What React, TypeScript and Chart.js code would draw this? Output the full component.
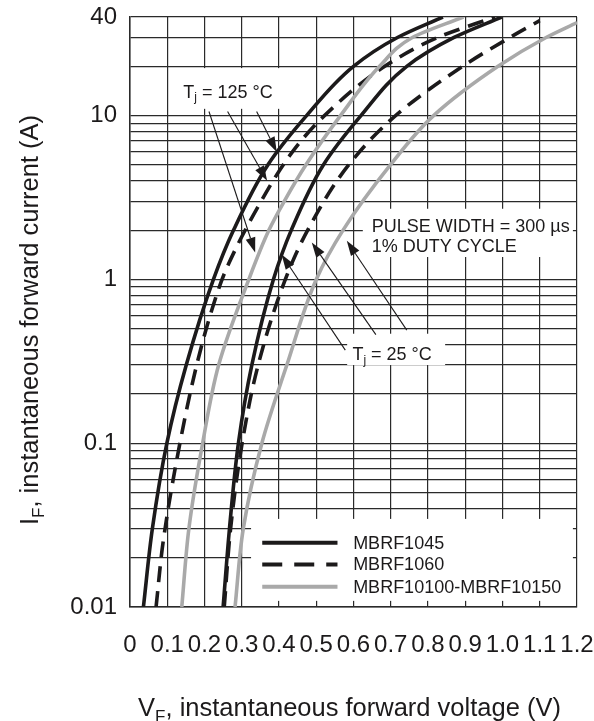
import React, { useEffect, useRef } from 'react';
import { Chart, registerables } from 'chart.js';

Chart.register(...registerables);

const seriesLabels = ['MBRF1045', 'MBRF1060', 'MBRF10100-MBRF10150'];

// Tj = 125 °C
const mbrf1045Hot_V = [0.036, 0.060, 0.099, 0.151, 0.224, 0.278, 0.370, 0.474, 0.600, 0.718, 0.840];
const mbrf1045Hot_I = [0.01, 0.03, 0.1, 0.3, 1, 2, 5, 10, 20, 30, 40];
const mbrf1060Hot_V = [0.070, 0.089, 0.134, 0.179, 0.224, 0.258, 0.352, 0.436, 0.522, 0.684, 0.826, 0.980];
const mbrf1060Hot_I = [0.01, 0.025, 0.1, 0.3, 0.7, 1.15, 3, 6, 10, 20, 30, 40];
const mbrf10100Hot_V = [0.139, 0.158, 0.195, 0.238, 0.319, 0.373, 0.414, 0.472, 0.565, 0.670, 0.758, 0.895];
const mbrf10100Hot_I = [0.01, 0.03, 0.1, 0.3, 1, 2, 3, 5, 10, 20, 30, 40];

// Tj = 25 °C
const mbrf1045Cold_V = [0.250, 0.267, 0.291, 0.327, 0.385, 0.433, 0.519, 0.620, 0.743, 0.870, 0.998];
const mbrf1045Cold_I = [0.01, 0.03, 0.1, 0.3, 1, 2, 5, 10, 20, 30, 40];
const mbrf1060Cold_V = [0.253, 0.270, 0.301, 0.344, 0.417, 0.477, 0.587, 0.713, 0.893, 1.020, 1.100];
const mbrf1060Cold_I = [0.01, 0.03, 0.1, 0.3, 1, 2, 5, 10, 20, 30, 38];
const mbrf10100Cold_V = [0.282, 0.304, 0.354, 0.421, 0.500, 0.572, 0.699, 0.815, 0.988, 1.117, 1.200];
const mbrf10100Cold_I = [0.01, 0.03, 0.1, 0.3, 1, 2, 5, 10, 20, 30, 37];

const xTickValues = [0, 0.1, 0.2, 0.3, 0.4, 0.5, 0.6, 0.7, 0.8, 0.9, 1.0, 1.1, 1.2];
const xTickLabels = ['0', '0.1', '0.2', '0.3', '0.4', '0.5', '0.6', '0.7', '0.8', '0.9', '1.0', '1.1', '1.2'];
const yGridValues = [
  0.01, 0.02, 0.03, 0.04, 0.05, 0.06, 0.07, 0.08, 0.09,
  0.1, 0.2, 0.3, 0.4, 0.5, 0.6, 0.7, 0.8, 0.9,
  1, 2, 3, 4, 5, 6, 7, 8, 9,
  10, 20, 30, 40,
];
const yTickLabelValues = [0.01, 0.1, 1, 10, 40];
const yTickLabels = ['0.01', '0.1', '1', '10', '40'];

const BLACK = '#1c1a1b';
const GRAY = '#a9a9a9';
const GRID = '#2a2a2a';
const FONT = '"Liberation Sans", Arial, Helvetica, sans-serif';

const pts = (v: number[], i: number[]) => v.map((x, k) => ({ x, y: i[k] }));

type Part = { t: string; sub?: boolean };

function richWidth(ctx: CanvasRenderingContext2D, parts: Part[], size: number) {
  let w = 0;
  for (const p of parts) {
    ctx.font = `${p.sub ? Math.round(size * 0.68) : size}px ${FONT}`;
    w += ctx.measureText(p.t).width;
  }
  return w;
}

function drawRich(ctx: CanvasRenderingContext2D, parts: Part[], x: number, y: number, size: number) {
  let cx = x;
  ctx.textBaseline = 'alphabetic';
  ctx.textAlign = 'left';
  for (const p of parts) {
    const s = p.sub ? Math.round(size * 0.68) : size;
    ctx.font = `${s}px ${FONT}`;
    ctx.fillText(p.t, cx, p.sub ? y + size * 0.22 : y);
    cx += ctx.measureText(p.t).width;
  }
}

function arrow(ctx: CanvasRenderingContext2D, x0: number, y0: number, x1: number, y1: number) {
  const ang = Math.atan2(y1 - y0, x1 - x0);
  const L = 15;
  const W = 5;
  const bx = x1 - L * Math.cos(ang);
  const by = y1 - L * Math.sin(ang);
  ctx.beginPath();
  ctx.moveTo(x0, y0);
  ctx.lineTo(bx, by);
  ctx.strokeStyle = BLACK;
  ctx.lineWidth = 1.1;
  ctx.stroke();
  ctx.beginPath();
  ctx.moveTo(x1, y1);
  ctx.lineTo(bx + W * Math.sin(ang), by - W * Math.cos(ang));
  ctx.lineTo(bx - W * Math.sin(ang), by + W * Math.cos(ang));
  ctx.closePath();
  ctx.fillStyle = BLACK;
  ctx.fill();
}

// annotation anchors in data units (V, A)
const hotArrowTips = [
  { v: 0.336, i: 1.46 },
  { v: 0.368, i: 4.0 },
  { v: 0.394, i: 6.0 },
];
const coldArrowTips = [
  { v: 0.407, i: 1.42 },
  { v: 0.488, i: 1.68 },
  { v: 0.582, i: 1.72 },
];

const overlayPlugin = {
  id: 'overlay',
  beforeDatasetsDraw(chart: any) {
    const { ctx } = chart;
    const xs = chart.scales.x;
    const ys = chart.scales.y;
    ctx.save();
    ctx.fillStyle = '#ffffff';
    const box = (v0: number, i0: number, v1: number, i1: number) => {
      const x0 = xs.getPixelForValue(v0);
      const x1 = xs.getPixelForValue(v1);
      const y0 = ys.getPixelForValue(i0);
      const y1 = ys.getPixelForValue(i1);
      ctx.fillRect(x0, y0, x1 - x0, y1 - y0);
    };
    box(0.126, 19.5, 0.403, 11.0); // Tj = 125 label
    box(0.625, 2.7, 1.189, 1.37); // pulse width note
    box(0.583, 0.466, 0.846, 0.30); // Tj = 25 label
    box(0.325, 0.0345, 1.189, 0.0109); // legend
    ctx.restore();
  },
  afterDatasetsDraw(chart: any) {
    const { ctx, chartArea } = chart;
    const xs = chart.scales.x;
    const ys = chart.scales.y;
    const px = (v: number) => xs.getPixelForValue(v);
    const py = (i: number) => ys.getPixelForValue(i);
    ctx.save();
    ctx.fillStyle = BLACK;

    // Tj = 125 °C
    drawRich(ctx, [{ t: 'T' }, { t: 'j', sub: true }, { t: ' = 125 °C' }], px(0.143), py(12.9), 18);
    const hotStarts = [
      { x: px(0.212), y: py(10.6) },
      { x: px(0.262), y: py(10.6) },
      { x: px(0.34), y: py(10.6) },
    ];
    hotStarts.forEach((s, k) => arrow(ctx, s.x, s.y, px(hotArrowTips[k].v), py(hotArrowTips[k].i)));

    // Pulse note
    ctx.fillStyle = BLACK;
    drawRich(ctx, [{ t: 'PULSE WIDTH = 300 µs' }], px(0.649), py(1.95), 18);
    drawRich(ctx, [{ t: '1% DUTY CYCLE' }], px(0.649), py(1.46), 18);

    // Tj = 25 °C
    ctx.fillStyle = BLACK;
    drawRich(ctx, [{ t: 'T' }, { t: 'j', sub: true }, { t: ' = 25 °C' }], px(0.597), py(0.32), 18);
    const coldStarts = [
      { x: px(0.578), y: py(0.37) },
      { x: px(0.66), y: py(0.46) },
      { x: px(0.743), y: py(0.49) },
    ];
    coldStarts.forEach((s, k) => arrow(ctx, s.x, s.y, px(coldArrowTips[k].v), py(coldArrowTips[k].i)));

    // Legend
    const styles = [
      { c: BLACK, d: [] as number[] },
      { c: BLACK, d: [20, 12] },
      { c: GRAY, d: [] as number[] },
    ];
    const rowY = [py(0.0247), py(0.0182), py(0.0133)];
    const lx0 = px(0.355);
    const lx1 = px(0.557);
    seriesLabels.forEach((lab, k) => {
      ctx.beginPath();
      ctx.setLineDash(styles[k].d);
      ctx.strokeStyle = styles[k].c;
      ctx.lineWidth = 4;
      ctx.moveTo(lx0, rowY[k]);
      ctx.lineTo(lx1, rowY[k]);
      ctx.stroke();
      ctx.setLineDash([]);
      ctx.fillStyle = BLACK;
      ctx.font = `18px ${FONT}`;
      ctx.textBaseline = 'middle';
      ctx.textAlign = 'left';
      ctx.fillText(lab, px(0.599), rowY[k] + 1);
    });

    // Axis titles
    ctx.fillStyle = BLACK;
    const xt: Part[] = [{ t: 'V' }, { t: 'F', sub: true }, { t: ', instantaneous forward voltage (V)' }];
    const xw = richWidth(ctx, xt, 25.5);
    drawRich(ctx, xt, (chartArea.left + chartArea.right) / 2 - xw / 2 - 4, 716, 25.5);

    const yt: Part[] = [{ t: 'I' }, { t: 'F', sub: true }, { t: ', instantaneous forward current (A)' }];
    const yw = richWidth(ctx, yt, 25.5);
    ctx.translate(38, 320);
    ctx.rotate(-Math.PI / 2);
    drawRich(ctx, yt, -yw / 2, 0, 25.5);
    ctx.restore();
  },
};

const noPad = (s: any) => {
  s.paddingLeft = 0;
  s.paddingRight = 0;
  s.paddingTop = 0;
  s.paddingBottom = 0;
};

export default function App() {
  const ref = useRef<HTMLCanvasElement | null>(null);
  useEffect(() => {
    if (!ref.current) return;
    const solid = { borderColor: BLACK, borderWidth: 3.6, borderDash: [] as number[] };
    const dashed = { borderColor: BLACK, borderWidth: 3.6, borderDash: [16, 9] };
    const gray = { borderColor: GRAY, borderWidth: 3.6, borderDash: [] as number[] };
    const common = { pointRadius: 0, fill: false, cubicInterpolationMode: 'monotone' as const };
    const chart = new Chart(ref.current, {
      type: 'line',
      data: {
        datasets: [
          { label: seriesLabels[2] + ' 125', data: pts(mbrf10100Hot_V, mbrf10100Hot_I), ...gray, ...common },
          { label: seriesLabels[2] + ' 25', data: pts(mbrf10100Cold_V, mbrf10100Cold_I), ...gray, ...common },
          { label: seriesLabels[1] + ' 125', data: pts(mbrf1060Hot_V, mbrf1060Hot_I), ...dashed, ...common },
          { label: seriesLabels[1] + ' 25', data: pts(mbrf1060Cold_V, mbrf1060Cold_I), ...dashed, ...common },
          { label: seriesLabels[0] + ' 125', data: pts(mbrf1045Hot_V, mbrf1045Hot_I), ...solid, ...common },
          { label: seriesLabels[0] + ' 25', data: pts(mbrf1045Cold_V, mbrf1045Cold_I), ...solid, ...common },
        ],
      },
      options: {
        animation: false,
        responsive: true,
        maintainAspectRatio: false,
        indexAxis: 'y',
        layout: { padding: { left: 0, right: 17, top: 17, bottom: 0 } },
        plugins: { legend: { display: false }, tooltip: { enabled: false }, title: { display: false } },
        scales: {
          x: {
            type: 'linear',
            position: 'bottom',
            min: 0,
            max: 1.2,
            afterBuildTicks: (s: any) => { s.ticks = xTickValues.map((v) => ({ value: v })); },
            afterFit: (s: any) => { s.height = 114; noPad(s); },
            grid: { color: GRID, lineWidth: 1.2, drawTicks: false },
            border: { display: true, color: GRID, width: 1.5 },
            ticks: {
              autoSkip: false,
              maxRotation: 0,
              minRotation: 0,
              padding: 24,
              color: BLACK,
              font: { size: 24, family: FONT },
              callback: (_v: any, idx: number) => xTickLabels[idx],
            },
          },
          y: {
            type: 'logarithmic',
            position: 'left',
            min: 0.01,
            max: 40,
            afterBuildTicks: (s: any) => { s.ticks = yGridValues.map((v) => ({ value: v })); },
            afterFit: (s: any) => { s.width = 130; noPad(s); },
            grid: { color: GRID, lineWidth: 1.2, drawTicks: false },
            border: { display: true, color: GRID, width: 1.5 },
            ticks: {
              autoSkip: false,
              padding: 13,
              color: BLACK,
              font: { size: 24, family: FONT },
              callback: (value: any) => {
                const k = yTickLabelValues.findIndex((v) => Math.abs(v - Number(value)) / v < 1e-6);
                return k >= 0 ? yTickLabels[k] : '';
              },
            },
          },
        },
      },
      plugins: [overlayPlugin],
    } as any);
    return () => chart.destroy();
  }, []);
  return (
    <div style={{ position: 'fixed', left: 0, top: 0, width: 594, height: 721, background: '#fff' }}>
      <canvas ref={ref} />
    </div>
  );
}
